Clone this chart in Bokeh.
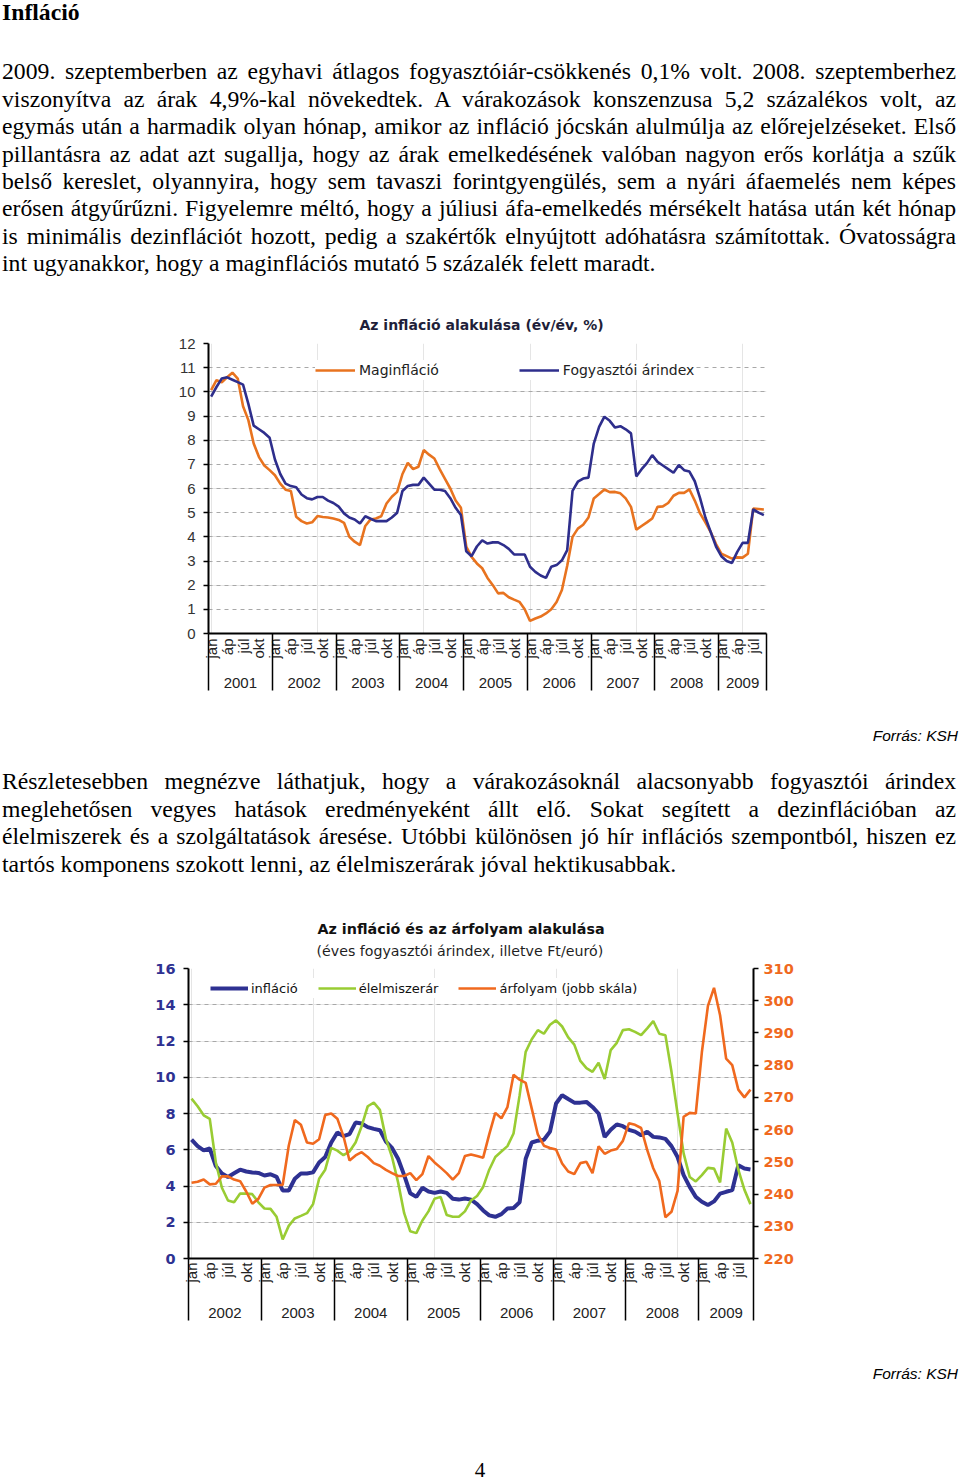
import math
from bokeh.plotting import figure
from bokeh.models import (Range1d, LinearAxis, FixedTicker, Grid, Legend, LegendItem,
                          Title, Div)
from bokeh.layouts import column
from bokeh.embed import file_html
from bokeh.resources import INLINE

# ---------------- data ----------------
month_names = ["jan", "áp", "júl", "okt"]

c1_years = ["2001", "2002", "2003", "2004", "2005", "2006", "2007", "2008", "2009"]
# Maginfláció, 2001 jan - 2009 szep
c1_core = [10.07, 10.48, 10.4, 10.6, 10.79, 10.55, 9.4, 8.83, 7.86, 7.3, 6.95, 6.76,
           6.55, 6.2, 5.95, 5.9, 4.83, 4.65, 4.55, 4.6, 4.86, 4.82, 4.8, 4.76,
           4.7, 4.58, 4.0, 3.8, 3.66, 4.45, 4.72, 4.76, 4.85, 5.38, 5.66, 5.86,
           6.6, 7.06, 6.8, 6.9, 7.59, 7.4, 7.24, 6.8, 6.4, 6.0, 5.5, 5.2,
           3.6, 3.17, 2.9, 2.7, 2.3, 2.0, 1.66, 1.68, 1.5, 1.4, 1.31, 1.0,
           0.52, 0.62, 0.7, 0.83, 1.0, 1.3, 1.8, 2.8, 4.0, 4.34, 4.5, 4.8,
           5.59, 5.77, 5.96, 5.85, 5.86, 5.8, 5.59, 5.24, 4.3, 4.45, 4.6, 4.76,
           5.24, 5.26, 5.4, 5.7, 5.82, 5.82, 5.96, 5.5, 4.97, 4.6, 4.2, 3.7,
           3.3, 3.2, 3.1, 3.15, 3.14, 3.3, 5.17, 5.15, 5.13]
# Fogyasztói árindex
c1_cpi = [9.8, 10.2, 10.55, 10.6, 10.5, 10.4, 10.3, 9.5, 8.6, 8.45, 8.3, 8.1,
          7.2, 6.6, 6.2, 6.1, 6.05, 5.75, 5.6, 5.55, 5.65, 5.65, 5.5, 5.4,
          5.25, 4.97, 4.8, 4.72, 4.55, 4.85, 4.75, 4.65, 4.65, 4.65, 4.8, 5.0,
          5.9, 6.1, 6.15, 6.15, 6.45, 6.2, 5.95, 5.95, 5.9, 5.6, 5.2, 4.9,
          3.4, 3.2, 3.6, 3.85, 3.72, 3.77, 3.77, 3.66, 3.5, 3.27, 3.27, 3.27,
          2.76, 2.55, 2.4, 2.3, 2.76, 2.83, 3.03, 3.45, 5.9, 6.28, 6.41, 6.45,
          7.86, 8.55, 8.97, 8.8, 8.52, 8.58, 8.45, 8.28, 6.5, 6.8, 7.05, 7.38,
          7.1, 6.95, 6.8, 6.65, 6.97, 6.76, 6.7, 6.3, 5.6, 4.8, 4.2, 3.6,
          3.2, 3.0, 2.92, 3.38, 3.75, 3.75, 5.14, 5.0, 4.9]
c1_yticks = list(range(0, 13))

c2_years = ["2002", "2003", "2004", "2005", "2006", "2007", "2008", "2009"]
# infláció, 2002 jan - 2009 szep
c2_infl = [6.56, 6.2, 5.97, 6.07, 5.1, 4.69, 4.5, 4.7, 4.9, 4.8, 4.75, 4.72,
           4.58, 4.65, 4.5, 3.75, 3.75, 4.4, 4.69, 4.69, 4.75, 5.3, 5.6, 6.4,
           6.95, 6.75, 6.86, 7.5, 7.45, 7.25, 7.15, 7.08, 6.45, 6.1, 5.5, 4.6,
           3.6, 3.4, 3.9, 3.7, 3.62, 3.7, 3.62, 3.3, 3.25, 3.31, 3.25, 3.0,
           2.65, 2.38, 2.3, 2.45, 2.76, 2.79, 3.1, 5.5, 6.4, 6.5, 6.55, 7.0,
           8.55, 9.01, 8.8, 8.6, 8.6, 8.64, 8.36, 8.0, 6.7, 7.1, 7.4, 7.3,
           7.1, 7.0, 6.8, 6.99, 6.71, 6.68, 6.6, 6.2, 5.6, 4.6, 3.95, 3.4,
           3.13, 2.95, 3.15, 3.58, 3.68, 3.77, 5.15, 4.96, 4.91]
# élelmiszerár
c2_food = [8.82, 8.4, 7.9, 7.7, 5.3, 3.9, 3.2, 3.1, 3.58, 3.58, 3.55, 3.1,
           2.76, 2.74, 2.3, 1.05, 1.8, 2.21, 2.35, 2.5, 3.0, 4.4, 4.9, 6.1,
           5.95, 5.7, 5.9, 6.4, 7.3, 8.4, 8.6, 8.2, 6.6, 5.6, 4.2, 2.5,
           1.5, 1.4, 2.1, 2.6, 3.3, 3.4, 2.4, 2.3, 2.3, 2.6, 3.2, 3.45,
           3.95, 4.9, 5.6, 5.9, 6.2, 6.9, 9.0, 11.4, 12.1, 12.6, 12.4, 12.9,
           13.14, 12.8, 12.2, 11.8, 10.9, 10.5, 10.3, 10.8, 9.9, 11.5, 11.9, 12.6,
           12.65, 12.5, 12.32, 12.7, 13.1, 12.4, 12.32, 10.3, 8.0, 5.8, 4.5, 4.25,
           4.6, 5.0, 4.96, 4.2, 7.17, 6.4, 4.9, 3.8, 3.0]
# árfolyam (jobb skála), Ft/euró
c2_fx = [243.5, 243.8, 244.5, 243.0, 243.2, 245.5, 245.5, 244.5, 244.0, 240.8, 237.0, 238.5,
         242.0, 242.8, 242.8, 242.8, 255.0, 263.0, 261.5, 256.0, 255.6, 257.0, 264.5, 265.0,
         263.4, 258.0, 250.4, 252.0, 253.0, 251.5, 249.6, 248.8, 247.5, 246.5, 245.6, 245.6,
         246.5, 244.3, 246.2, 251.8, 249.8, 248.2, 246.5, 244.5, 246.5, 251.8, 252.3, 251.8,
         251.3, 258.5, 265.2, 263.5, 267.0, 277.0, 275.5, 274.5, 266.5, 258.5, 255.0, 254.3,
         253.8, 249.5, 247.0, 246.2, 249.6, 250.0, 246.5, 254.8, 252.5, 253.5, 254.0, 256.5,
         262.0, 261.5, 260.5, 253.7, 248.0, 244.0, 232.8, 234.5, 241.0, 264.0, 265.2, 265.0,
         284.0, 298.4, 304.0, 295.5, 282.0, 280.0, 272.4, 270.0, 272.4]
c2_left_ticks = [0, 2, 4, 6, 8, 10, 12, 14, 16]
c2_right_ticks = [220, 230, 240, 250, 260, 270, 280, 290, 300, 310]

para1 = [
    "2009. szeptemberben az egyhavi átlagos fogyasztóiár-csökkenés 0,1% volt. 2008. szeptemberhez",
    "viszonyítva az árak 4,9%-kal növekedtek. A várakozások konszenzusa 5,2 százalékos volt, az",
    "egymás után a harmadik olyan hónap, amikor az infláció jócskán alulmúlja az előrejelzéseket. Első",
    "pillantásra az adat azt sugallja, hogy az árak emelkedésének valóban nagyon erős korlátja a szűk",
    "belső kereslet, olyannyira, hogy sem tavaszi forintgyengülés, sem a nyári áfaemelés nem képes",
    "erősen átgyűrűzni. Figyelemre méltó, hogy a júliusi áfa-emelkedés mérsékelt hatása után két hónap",
    "is minimális dezinflációt hozott, pedig a szakértők elnyújtott adóhatásra számítottak. Óvatosságra",
    "int ugyanakkor, hogy a maginflációs mutató 5 százalék felett maradt.",
]
para2 = [
    "Részletesebben megnézve láthatjuk, hogy a várakozásoknál alacsonyabb fogyasztói árindex",
    "meglehetősen vegyes hatások eredményeként állt elő. Sokat segített a dezinflációban az",
    "élelmiszerek és a szolgáltatások áresése. Utóbbi különösen jó hír inflációs szempontból, hiszen ez",
    "tartós komponens szokott lenni, az élelmiszerárak jóval hektikusabbak.",
]

SANS = "Liberation Sans"
VERD = "DejaVu Sans"
SERIF = "Liberation Serif"
LH = 27.43


def lines_html(lines):
    out = []
    for j, ln in enumerate(lines):
        last = j == len(lines) - 1
        al = "left" if last else "justify"
        out.append(f'<div style="text-align:{al};text-align-last:{al};height:{LH}px;'
                   f'line-height:{LH}px;">{ln}</div>')
    return "".join(out)


def time_axes(p, n, years, month_standoff, year_standoff, sep_len):
    ticks = [i for i in range(n) if i % 3 == 0]
    labels = {i: month_names[(i % 12) // 3] for i in ticks}
    seps = [k * 12 - 0.5 for k in range(0, (n - 1) // 12 + 1)] + [n - 0.5]
    mon_ax = LinearAxis(ticker=FixedTicker(ticks=ticks, minor_ticks=[]),
                        major_label_overrides=labels,
                        major_label_orientation=math.pi / 2,
                        major_tick_out=0, major_tick_in=0,
                        minor_tick_line_color=None,
                        axis_line_color="black", axis_line_width=2,
                        major_label_text_font=SANS, major_label_text_font_size="15px",
                        major_label_text_color="#222222",
                        major_label_standoff=month_standoff)
    centers = []
    ylabels = {}
    for k, y in enumerate(years):
        s = k * 12
        e = min(k * 12 + 11, n - 1)
        c = (s + e) / 2
        centers.append(c)
        ylabels[c] = y
    yr_ax = LinearAxis(ticker=FixedTicker(ticks=centers, minor_ticks=[]),
                       major_label_overrides=ylabels,
                       major_tick_line_color=None, minor_tick_line_color=None,
                       major_tick_out=0, major_tick_in=0,
                       axis_line_color=None,
                       major_label_text_font=SANS, major_label_text_font_size="15px",
                       major_label_text_color="#222222", major_label_standoff=year_standoff)
    sep_ax = LinearAxis(ticker=FixedTicker(ticks=seps, minor_ticks=[]),
                        major_label_overrides={s: "" for s in seps},
                        major_label_text_font_size="1px", major_label_standoff=0,
                        major_tick_out=0, major_tick_in=sep_len,
                        major_tick_line_color="black", major_tick_line_width=1.5,
                        minor_tick_line_color=None, axis_line_color=None)
    p.add_layout(mon_ax, "below")
    p.add_layout(yr_ax, "below")
    p.add_layout(sep_ax, "below")


# ---------------- text block 1 ----------------
div_a = Div(width=960, height=300, margin=0, text=(
    f'<div style="font-family:\'{SERIF}\';font-size:23.7px;color:#000;width:956px;padding-left:2px;">'
    f'<div style="font-weight:bold;height:24px;line-height:24px;">Infláció</div>'
    f'<div style="margin-top:34.3px;">{lines_html(para1)}</div></div>'))

# ---------------- chart 1 ----------------
n1 = len(c1_cpi)
x1 = list(range(n1))
p1 = figure(width=960, height=410, output_backend="svg", toolbar_location=None,
            x_range=Range1d(-0.5, n1 - 0.5), y_range=Range1d(0, 12),
            x_axis_location=None, y_axis_location=None, title=None,
            min_border_left=208, min_border_right=194, min_border_top=43,
            min_border_bottom=77, margin=0)
p1.frame_align = False
p1.outline_line_color = None
p1.add_layout(Title(text="Az infláció alakulása (év/év, %)", align="left",
                    text_font=VERD, text_font_size="14px", text_font_style="bold",
                    text_color="#1f1f3a", offset=151, standoff=22), "above")
y1ax = LinearAxis(ticker=FixedTicker(ticks=c1_yticks, minor_ticks=[]),
                  major_tick_out=5, major_tick_in=0, axis_line_width=2,
                  major_tick_line_width=1.5,
                  major_label_text_font=SANS, major_label_text_font_size="15px",
                  major_label_text_color="#333333", major_label_standoff=8)
p1.add_layout(y1ax, "left")
p1.add_layout(Grid(dimension=1, ticker=FixedTicker(ticks=c1_yticks[1:]),
                   grid_line_color="#A8A8A8", grid_line_dash="4 4", grid_line_width=1))
time_axes(p1, n1, c1_years, 5, 16, 57)
r_core = p1.line(x1, c1_core, line_color="#E8731F", line_width=2.6)
r_cpi = p1.line(x1, c1_cpi, line_color="#2E2E8C", line_width=2.6)
leg1 = Legend(items=[LegendItem(label="Maginfláció", renderers=[r_core]),
                     LegendItem(label="Fogyasztói árindex", renderers=[r_cpi])],
              orientation="horizontal", location=(107, 253), padding=8, margin=0,
              spacing=80, glyph_width=40, label_standoff=4,
              label_text_font=VERD, label_text_font_size="14px",
              label_text_color="#222222",
              background_fill_color="white", background_fill_alpha=1,
              border_line_color=None)
p1.add_layout(leg1, "center")

# ---------------- forrás 1 ----------------
div_b = Div(width=960, height=46, margin=0, text=(
    f'<div style="font-family:\'{SANS}\';font-style:italic;font-size:15.5px;'
    f'line-height:20px;text-align:right;width:958px;padding-top:16px;">Forrás: KSH</div>'))

# ---------------- text block 2 ----------------
div_c = Div(width=960, height=144, margin=0, text=(
    f'<div style="font-family:\'{SERIF}\';font-size:23.7px;color:#000;width:956px;'
    f'padding-left:2px;padding-top:12.3px;">{lines_html(para2)}</div>'))

# ---------------- chart 2 ----------------
n2 = len(c2_infl)
x2 = list(range(n2))
p2 = figure(width=960, height=445, output_backend="svg", toolbar_location=None,
            x_range=Range1d(-0.5, n2 - 0.5), y_range=Range1d(0, 16),
            x_axis_location=None, y_axis_location=None, title=None,
            min_border_left=188, min_border_right=207, min_border_top=68,
            min_border_bottom=87, margin=0)
p2.frame_align = False
p2.outline_line_color = None
p2.extra_y_ranges = {"fx": Range1d(220, 310)}
p2.add_layout(Title(text="(éves fogyasztói árindex, illetve Ft/euró)", align="left",
                    text_font=VERD, text_font_size="14.2px", text_font_style="normal",
                    text_color="#1f1f1f", offset=128, standoff=20), "above")
p2.add_layout(Title(text="Az infláció és az árfolyam alakulása", align="left",
                    text_font=VERD, text_font_size="14.3px", text_font_style="bold",
                    text_color="#111111", offset=129, standoff=-12), "above")
NAVY = "#2E3192"
ORNG = "#F0691E"
GRN = "#99CC33"
yl = LinearAxis(ticker=FixedTicker(ticks=c2_left_ticks, minor_ticks=[]),
                major_tick_out=5, major_tick_in=0, axis_line_width=2,
                major_tick_line_width=1.5,
                major_label_text_font=VERD, major_label_text_font_size="14.5px",
                major_label_text_font_style="bold",
                major_label_text_color=NAVY, major_label_standoff=8)
p2.add_layout(yl, "left")
yr = LinearAxis(y_range_name="fx", ticker=FixedTicker(ticks=c2_right_ticks, minor_ticks=[]),
                major_tick_out=5, major_tick_in=0, axis_line_width=2,
                major_tick_line_width=1.5,
                major_label_text_font=VERD, major_label_text_font_size="14.5px",
                major_label_text_font_style="bold",
                major_label_text_color=ORNG, major_label_standoff=5)
p2.add_layout(yr, "right")
p2.add_layout(Grid(dimension=1, ticker=FixedTicker(ticks=c2_left_ticks[1:]),
                   grid_line_color="#A8A8A8", grid_line_dash="4 4", grid_line_width=1))
time_axes(p2, n2, c2_years, 4, 22, 62)
r_infl = p2.line(x2, c2_infl, line_color=NAVY, line_width=4)
r_food = p2.line(x2, c2_food, line_color=GRN, line_width=2.6)
r_fx = p2.line(x2, c2_fx, line_color=ORNG, line_width=2.6, y_range_name="fx")
leg2 = Legend(items=[LegendItem(label="infláció", renderers=[r_infl]),
                     LegendItem(label="élelmiszerár", renderers=[r_food]),
                     LegendItem(label="árfolyam (jobb skála)", renderers=[r_fx])],
              orientation="horizontal", location=(22, 260), padding=4, margin=0,
              spacing=20, glyph_width=38, label_standoff=3,
              label_text_font=VERD, label_text_font_size="13px",
              label_text_color="#111111",
              background_fill_color="white", background_fill_alpha=1,
              border_line_color=None)
p2.add_layout(leg2, "center")

div_d = Div(width=960, height=50, margin=0, text=(
    f'<div style="font-family:\'{SANS}\';font-style:italic;font-size:15.5px;'
    f'line-height:20px;text-align:right;width:958px;padding-top:19px;">Forrás: KSH</div>'))

div_e = Div(width=960, height=87, margin=0, text=(
    f'<div style="font-family:\'{SERIF}\';font-size:21px;line-height:18px;'
    f'text-align:center;width:960px;padding-top:66px;">4</div>'))

layout = column(div_a, p1, div_b, div_c, p2, div_d, div_e, spacing=0, margin=0)
open("out.html", "w").write(file_html(layout, INLINE))
